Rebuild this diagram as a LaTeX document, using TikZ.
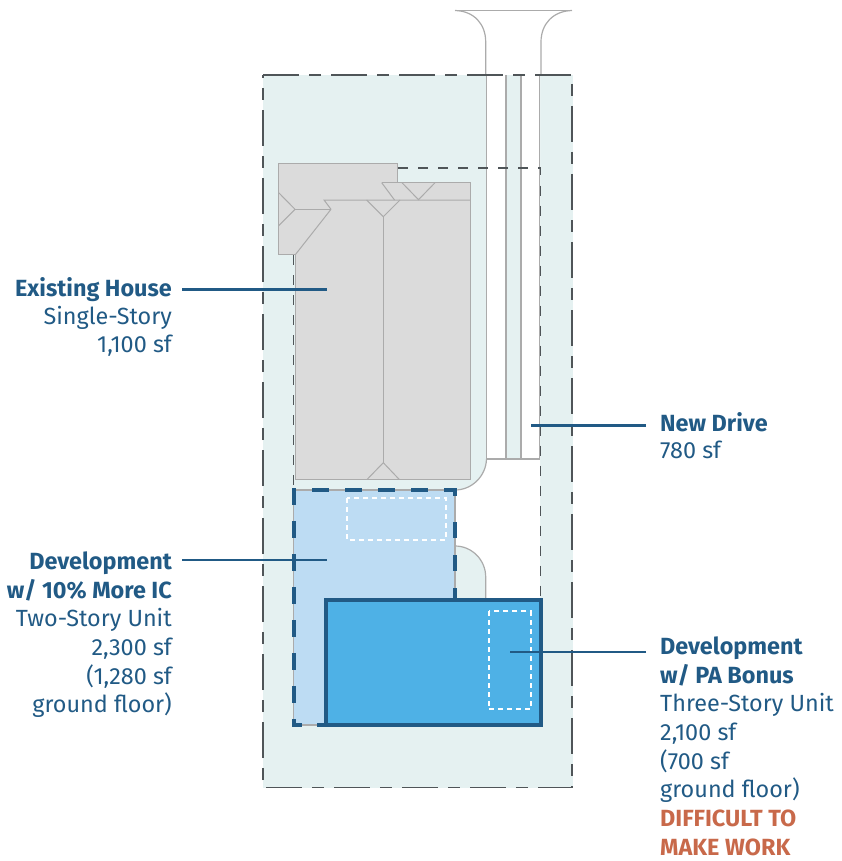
\documentclass[tikz,border=0pt]{standalone}
\usepackage{xcolor}
\usepackage{fontspec}
\setmainfont{Fira Sans}
\usepackage{tikz}
\usetikzlibrary{positioning}
\definecolor{sitegreen}{HTML}{E5F1F1}
\definecolor{roofgrey}{HTML}{DBDBDB}
\definecolor{linegrey}{HTML}{ABABAB}
\definecolor{darkdash}{HTML}{4F5558}
\definecolor{navy}{HTML}{215A85}
\definecolor{paleblue}{HTML}{BDDCF3}
\definecolor{brightblue}{HTML}{4EB1E6}
\definecolor{rust}{HTML}{C8694A}
\begin{document}
\begin{tikzpicture}[x=1pt, y=-1pt,
          every node/.style={inner sep=0pt, text=navy, font=\fontsize{23.4}{28.7}\selectfont},
          leftname/.style={anchor=east, text height=16pt, text depth=5pt, font=\fontsize{23.4}{29}\selectfont\bfseries},
          rightname/.style={anchor=west, text height=16pt, text depth=5pt, font=\fontsize{23.4}{29}\selectfont\bfseries},
          leftnote/.style={align=right, anchor=north east},
          rightnote/.style={align=left, anchor=north west},
          roofline/.style={draw=linegrey, line width=1pt},
          kerbline/.style={draw=linegrey, line width=1.2pt},
          leader/.style={draw=navy, line width=2.4pt},
          upperdash/.style={draw=white, line width=2pt, dash pattern=on 5pt off 4pt}]
        \useasboundingbox (0,0) rectangle (842,861);
        \fill[sitegreen] (263,75) rectangle (573,788);
        \fill[white] (486.5,75) -- (540,75) -- (540,600) -- (485.7,600) -- (485.7,577)
          .. controls (485.7,560) and (472,546) .. (455,546) -- (455,490)
          .. controls (472,490) and (486,476) .. (486.5,459) -- cycle;
        \fill[sitegreen] (506,75) rectangle (521,459);
        \draw[kerbline] (455,10.5) -- (572,10.5);
        \draw[kerbline] (455,10.5) .. controls (474,11) and (485.7,24) .. (485.7,42) -- (485.7,75);
        \draw[kerbline] (572,10.5) .. controls (553,11) and (541,24) .. (541,42) -- (541,75);
        \draw[kerbline] (486.5,75) -- (486.5,459) -- (540,459);
        \draw[kerbline] (506,75) -- (506,459);
        \draw[kerbline] (521,75) -- (521,459);
        \draw[kerbline] (539.5,75) -- (539.5,459);
        \draw[kerbline] (486.5,459) .. controls (486,476) and (472,490) .. (455,490);
        \draw[kerbline] (455,546) .. controls (472,546) and (485.7,560) .. (485.7,577) -- (485.7,600);
        \draw[darkdash, line width=1.2pt, dash pattern=on 36pt off 10pt on 12pt off 10pt]
          (263,75) -- (572,75) -- (572,787.5) -- (263,787.5) -- cycle;
        \draw[darkdash, line width=1.1pt, dash pattern=on 10pt off 10pt]
          (398,168) -- (540.5,168) -- (540.5,600);
        \draw[darkdash, line width=1.1pt, dash pattern=on 10pt off 10pt] (293.5,255) -- (293.5,490);
        \fill[roofgrey] (278.7,163.5) -- (397.7,163.5) -- (397.7,182.7) -- (470.7,182.7)
          -- (470.7,479.5) -- (295.3,479.5) -- (295.3,254.7) -- (278.7,254.7) -- cycle;
        \draw[roofline] (295.3,479.5) -- (295.3,254.7) -- (278.7,254.7) -- (278.7,163.5)
          -- (397.7,163.5) -- (397.7,182.7);
        \draw[roofline] (381.7,182.7) -- (470.7,182.7) -- (470.7,479.5) -- (295.3,479.5);
        \draw[roofline] (331,209.3) -- (324,200) -- (470.7,200);
        \draw[roofline] (331,209.3) -- (295,209.3);
        \draw[roofline] (331,209.3) -- (295.3,254.7);
        \draw[roofline] (278.7,192.7) -- (295,209.3) -- (278.7,225.7);
        \draw[roofline] (366.7,200) -- (383.3,216.7) -- (400,200);
        \draw[roofline] (383.3,216.7) -- (383.3,462.7);
        \draw[roofline] (367,479.5) -- (383.3,462.7) -- (399.3,479.5);
        \draw[roofline] (381.7,182.7) -- (394.5,200);
        \draw[roofline] (402,182.7) -- (418.5,199.7) -- (435,182.7);
        \fill[paleblue] (293.5,490) rectangle (455,725);
        \draw[kerbline] (293.5,490) rectangle (455,725);
        \draw[navy, line width=4pt, dash pattern=on 16.5pt off 16.5pt, dash phase=10.5pt]
          (293.5,725) -- (293.5,490) -- (455,490) -- (455,498);
        \draw[navy, line width=4pt, dash pattern=on 16pt off 17pt] (455,522) -- (455,600);
        \draw[navy, line width=4pt] (292,725) -- (302,725);
        \draw[navy, line width=4pt] (317,725) -- (328,725);
        \draw[upperdash] (347,498) rectangle (446,540);
        \draw[draw=navy, fill=brightblue, line width=4pt] (326,600.3) rectangle (541,724.7);
        \draw[upperdash] (488.7,611) rectangle (530.7,709.3);
        \node[leftname] (house_name) at (172,291) {Existing House};
        \node[leftnote, below=4pt of house_name.south east, anchor=north east] (house_note) {Single-Story\\1,100 sf};
        \node[rightname] (drive_name) at (660,426) {New Drive};
        \node[rightnote, below=4pt of drive_name.south west, anchor=north west] (drive_note) {780 sf};
        \node[leftname] (ic_name) at (172,564) {Development};
        \node[leftnote, below=4pt of ic_name.south east, anchor=north east] (ic_note)
          {\textbf{w/ 10\% More IC}\\Two-Story Unit\\2,300 sf\\(1,280 sf\\ground floor)};
        \node[rightname] (pa_name) at (660,649) {Development};
        \node[rightnote, below=4pt of pa_name.south west, anchor=north west] (pa_note)
          {\textbf{w/ PA Bonus}\\Three-Story Unit\\2,100 sf\\(700 sf\\ground floor)\\\textcolor{rust}{\textbf{DIFFICULT TO}}\\\textcolor{rust}{\textbf{MAKE WORK}}};
        \coordinate (house_end) at (327,289.5);
        \coordinate (drive_end) at (531,425.5);
        \coordinate (ic_end) at (327,560);
        \coordinate (pa_end) at (510,652);
        \draw[leader] ([xshift=10pt]house_name.east |- house_end) -- (house_end);
        \draw[leader] ([xshift=-14pt]drive_name.west |- drive_end) -- (drive_end);
        \draw[leader] ([xshift=10pt]ic_name.east |- ic_end) -- (ic_end);
        \draw[leader] ([xshift=-14pt]pa_name.west |- pa_end) -- (pa_end);
\end{tikzpicture}
\end{document}
